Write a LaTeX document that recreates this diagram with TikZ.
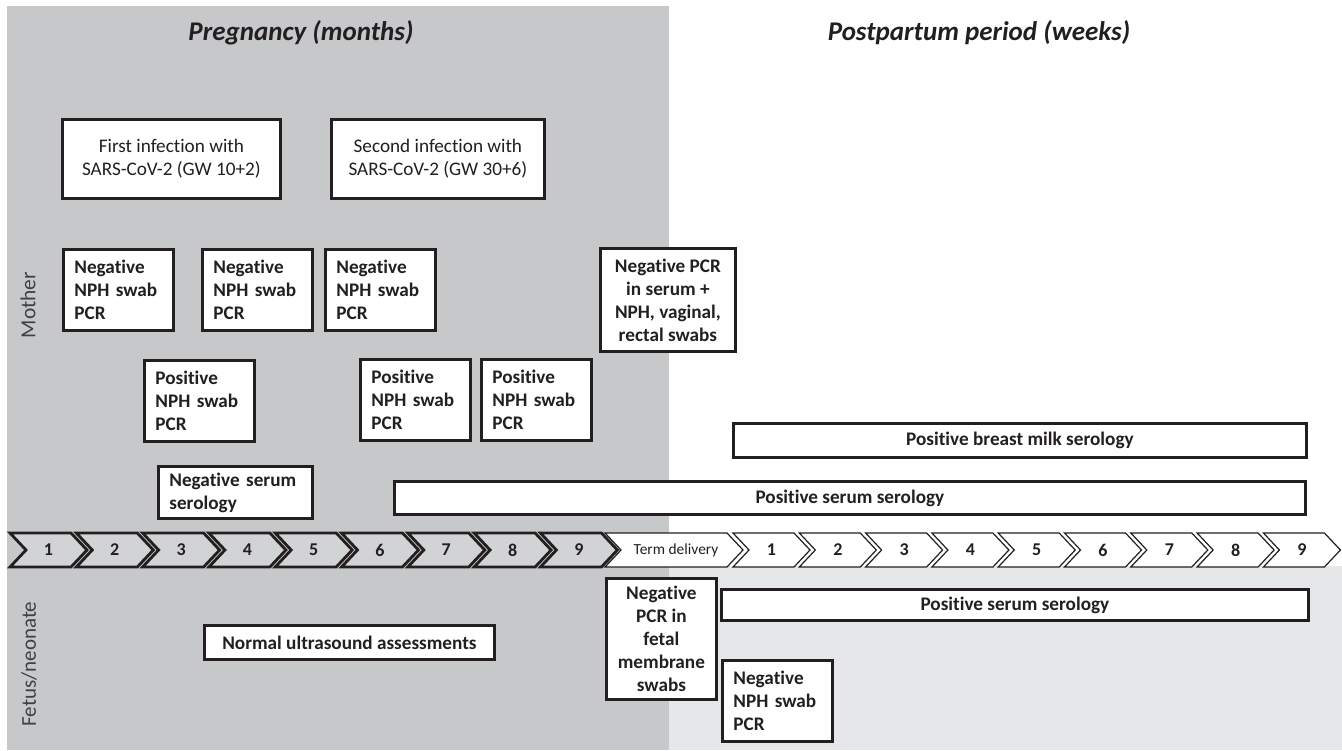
\documentclass[tikz,border=0pt]{standalone}
\usepackage{fontspec}
\setmainfont{Carlito}[Ligatures=NoCommon]
\definecolor{linec}{HTML}{231F20}
\definecolor{leftgray}{HTML}{C7C8CA}
\definecolor{rightgray}{HTML}{E6E7E8}
\definecolor{chevgray}{HTML}{D2D3D5}
\definecolor{sidegray}{HTML}{404041}
\newcommand\boxfont{\fontsize{9.6}{11.5}\selectfont}
\tikzset{
  box/.style={draw=linec, line width=1.4pt, fill=white, text=linec, inner sep=0pt, anchor=north west},
  lbox/.style={box, font=\boxfont\bfseries, align=left, inner xsep=5.5pt, text width=44pt, minimum height=40.5pt},
  cbox/.style={box, font=\boxfont\bfseries, align=center},
  pchev/.style={fill=chevgray, draw=linec, line width=1.4pt},
  wchev/.style={fill=white, draw=linec, line width=0.6pt},
  numtext/.style={font=\fontsize{9}{10}\selectfont\bfseries, text=linec},
}
\begin{document}
\begin{tikzpicture}[x=0.5pt,y=-0.5pt]
\useasboundingbox (0,0) rectangle (1342,750);
\fill[white] (0,0) rectangle (1342,750);
% backgrounds
\fill[leftgray] (7,6) rectangle (669,750);
\fill[rightgray] (669,566) rectangle (1342,750);
% titles and side labels
\node[font=\fontsize{13.5}{16}\selectfont\bfseries\itshape, text=linec] (preg) at (301,33) {Pregnancy (months)};
\node[font=\fontsize{13.5}{16}\selectfont\bfseries\itshape, text=linec] (post) at (979,33) {Postpartum period (weeks)};
\node[font=\fontsize{10.7}{12}\selectfont, text=sidegray, rotate=90] (mother) at (28,305) {Mother};
\node[font=\fontsize{10.5}{12}\selectfont, text=sidegray, rotate=90] (fetus) at (29,664) {Fetus/neonate};
% mother
\node[box, font=\boxfont, align=center, minimum width=109pt, minimum height=39.5pt] (inf1) at (61,118) {First infection with\\SARS-CoV-2 (GW 10+2)};
\node[box, font=\boxfont, align=center, minimum width=106.5pt, minimum height=39.5pt] (inf2) at (330,118) {Second infection with\\SARS-CoV-2 (GW 30+6)};
\node[lbox] (neg1) at (62,248) {Negative\\NPH swab\\PCR};
\node[lbox] (neg2) at (201,248) {Negative\\NPH swab\\PCR};
\node[lbox] (neg3) at (324,248) {Negative\\NPH swab\\PCR};
\node[lbox] (pos1) at (143,359) {Positive\\NPH swab\\PCR};
\node[lbox] (pos2) at (359,358) {Positive\\NPH swab\\PCR};
\node[lbox] (pos3) at (480,358) {Positive\\NPH swab\\PCR};
\node[lbox, text width=66pt, minimum height=26pt] (negser) at (157,465) {Negative serum\\serology};
\node[cbox, minimum width=67.5pt, minimum height=51.5pt] (negpcr) at (599,247) {Negative PCR\\in serum +\\NPH, vaginal,\\rectal swabs};
\node[cbox, minimum width=286.5pt, minimum height=17pt] (milk) at (732,422) {Positive breast milk serology};
\node[cbox, minimum width=455.5pt, minimum height=16.5pt] (posser) at (393,480) {Positive serum serology};
% timeline
\foreach \k in {1,...,9}{
  \pgfmathsetmacro\xs{10+(\k-1)*66.3}
  \draw[pchev] (\xs,533) -- ++(61,0) -- ++(16,17) -- ++(-16,17) -- ++(-61,0) -- ++(16,-17) -- cycle;
  \node[numtext] (pm\k) at (\xs+38.5,550) {\k};
}
\draw[wchev] (605,533) -- ++(122,0) -- ++(16,17) -- ++(-16,17) -- ++(-122,0) -- ++(16,-17) -- cycle;
\node[font=\fontsize{7.7}{9}\selectfont, text=linec] (term) at (676,550) {Term delivery};
\foreach \k in {1,...,9}{
  \pgfmathsetmacro\xs{733+(\k-1)*66.3}
  \draw[wchev] (\xs,533) -- ++(61,0) -- ++(16,17) -- ++(-16,17) -- ++(-61,0) -- ++(16,-17) -- cycle;
  \node[numtext] (pw\k) at (\xs+38.5,550) {\k};
}
% fetus / neonate
\node[cbox, minimum width=55pt, minimum height=60.5pt] (fetpcr) at (605,577) {Negative\\PCR in\\fetal\\membrane\\swabs};
\node[cbox, minimum width=293.5pt, minimum height=15.5pt] (neoser) at (720,588) {Positive serum serology};
\node[cbox, minimum width=145pt, minimum height=17pt] (ultra) at (203,624) {Normal ultrasound assessments};
\node[lbox] (neoneg) at (721,659) {Negative\\NPH swab\\PCR};
\end{tikzpicture}
\end{document}
